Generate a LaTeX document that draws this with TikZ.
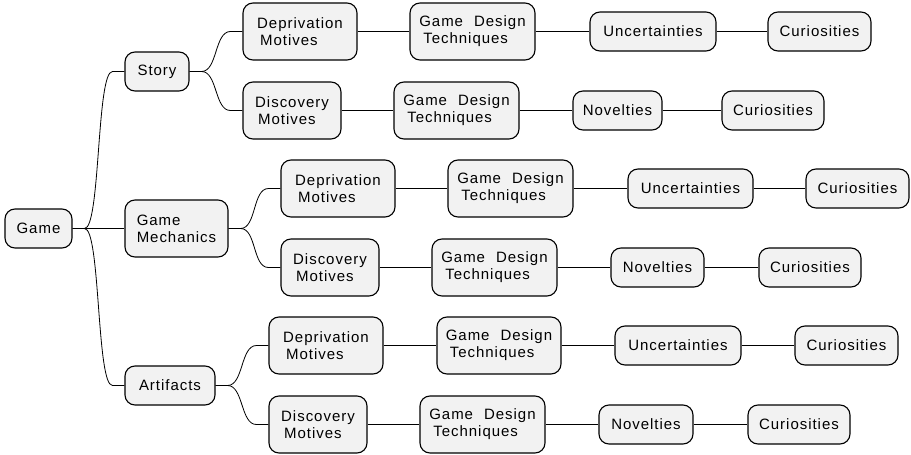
\documentclass[tikz,border=0pt]{standalone}
\usepackage{fontspec}
\setmainfont{Liberation Sans}[LetterSpace=6.5]
\usetikzlibrary{calc}
\tikzset{
  box/.style={draw=black, line width=1.1pt, fill=boxfill, rounded corners=10pt,
    align=left, inner sep=0pt, font=\fontsize{15}{17}\selectfont},
  one/.style={box, minimum height=39pt},
  two/.style={box, minimum height=57pt},
  conn/.style={draw=black, line width=0.8pt},
}
\definecolor{boxfill}{HTML}{F2F2F2}
\newcommand{\branch}[2]{\draw[conn] (#1.east) -- ++(12,0) .. controls +(16,0) and +(-16,0) .. ($(#2.west)+(-12,0)$) -- (#2.west);}
\newcommand{\gdt}{Game\hspace{11pt}Design\\\hspace{4pt}Techniques}
\begin{document}
\begin{tikzpicture}[x=1pt,y=-1pt]
\useasboundingbox (0,0) rectangle (911,455);
% level 0/1
\node[one, minimum width=67pt] (game) at (38.5,228.5) {Game};
\node[one, minimum width=64pt] (story) at (157,71.5) {Story};
\node[two, minimum width=103pt] (mech) at (176.5,228.5) {Game\\Mechanics};
\node[one, minimum width=90pt] (art) at (170,385.5) {Artifacts};
% row 1
\node[two, minimum width=114pt] (d1) at (300,31.5) {Deprivation\\\hspace{3pt}Motives};
\node[two, minimum width=125pt] (g1) at (472.5,31.5) {\gdt};
\node[one, minimum width=126pt] (u1) at (653,31.5) {Uncertainties};
\node[one, minimum width=103pt] (c1) at (819.5,31.5) {Curiosities};
% row 2
\node[two, minimum width=98pt] (d2) at (292,110.5) {Discovery\\\hspace{3pt}Motives};
\node[two, minimum width=125pt] (g2) at (456.5,110.5) {\gdt};
\node[one, minimum width=89pt] (u2) at (617.5,110.5) {Novelties};
\node[one, minimum width=102pt] (c2) at (773,110.5) {Curiosities};
% row 3
\node[two, minimum width=114pt] (d3) at (338,188.5) {Deprivation\\\hspace{3pt}Motives};
\node[two, minimum width=125pt] (g3) at (510.5,188.5) {\gdt};
\node[one, minimum width=125pt] (u3) at (690.5,188.5) {Uncertainties};
\node[one, minimum width=103pt] (c3) at (857.5,188.5) {Curiosities};
% row 4
\node[two, minimum width=98pt] (d4) at (330,267.5) {Discovery\\\hspace{3pt}Motives};
\node[two, minimum width=125pt] (g4) at (494.5,267.5) {\gdt};
\node[one, minimum width=93pt] (u4) at (657.5,267.5) {Novelties};
\node[one, minimum width=102pt] (c4) at (810,267.5) {Curiosities};
% row 5
\node[two, minimum width=114pt] (d5) at (326,345.5) {Deprivation\\\hspace{3pt}Motives};
\node[two, minimum width=124pt] (g5) at (499,345.5) {\gdt};
\node[one, minimum width=126pt] (u5) at (678,345.5) {Uncertainties};
\node[one, minimum width=103pt] (c5) at (846.5,345.5) {Curiosities};
% row 6
\node[two, minimum width=98pt] (d6) at (318,424.5) {Discovery\\\hspace{3pt}Motives};
\node[two, minimum width=125pt] (g6) at (482.5,424.5) {\gdt};
\node[one, minimum width=94pt] (u6) at (646,424.5) {Novelties};
\node[one, minimum width=102pt] (c6) at (799,424.5) {Curiosities};
% connectors
\branch{game}{story}
\draw[conn] (game.east) -- (mech.west);
\branch{game}{art}
\branch{story}{d1}
\branch{story}{d2}
\branch{mech}{d3}
\branch{mech}{d4}
\branch{art}{d5}
\branch{art}{d6}
\foreach \i in {1,...,6}{
  \draw[conn] (d\i.east) -- (g\i.west);
  \draw[conn] (g\i.east) -- (u\i.west);
  \draw[conn] (u\i.east) -- (c\i.west);
}
\end{tikzpicture}
\end{document}
